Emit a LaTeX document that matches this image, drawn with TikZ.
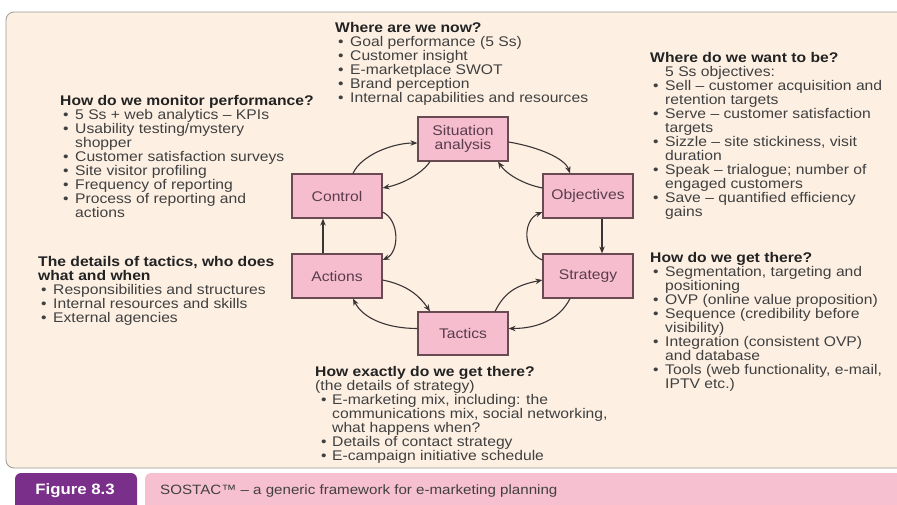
\documentclass[tikz,border=0pt]{standalone}
\usepackage{fontspec}
\setmainfont{Liberation Sans}[FakeStretch=1.12]
\usetikzlibrary{arrows.meta,calc}
\definecolor{cream}{HTML}{FDF0E3}
\definecolor{boxpink}{HTML}{F5BDCE}
\definecolor{boxline}{HTML}{6A4A52}
\definecolor{arrowc}{HTML}{3A3434}
\definecolor{bodytxt}{HTML}{404040}
\definecolor{headtxt}{HTML}{222222}
\definecolor{boxtxt}{HTML}{5A3C4C}
\definecolor{figpurple}{HTML}{7A2F8B}
\definecolor{capink}{HTML}{F7C0D0}
\definecolor{panelline}{HTML}{9A9A9A}
\newcommand{\bitem}[1]{\hspace*{3pt}\makebox[12pt][l]{•}#1}
\newcommand{\bcont}[1]{\hspace*{15pt}#1}
\newcommand{\hd}[1]{{\bfseries\color{headtxt}\rule{0pt}{11pt}#1}}
\newcommand{\hdb}[1]{{\bfseries\color{headtxt}#1}}
\begin{document}
\begin{tikzpicture}[x=1pt,y=-1pt,
  stagebox/.style={draw=boxline, fill=boxpink, line width=1.2pt, minimum width=90pt, minimum height=44pt, inner sep=0pt, align=center, text=boxtxt, font=\fontsize{14}{14}\selectfont},
  txtblock/.style={anchor=north west, inner sep=0pt, align=left, text=bodytxt, font=\fontsize{14}{14}\selectfont},
  arr/.style={draw=arrowc, line width=1.1pt, -{Stealth[length=7pt,width=5.5pt]}},
]
\useasboundingbox (0,0) rectangle (897,504);
\clip (0,0) rectangle (897,504);
\fill[white] (0,0) rectangle (897,504);
% panel
\draw[draw=panelline, line width=0.8pt, fill=cream, rounded corners=8pt] (6,12) rectangle (915,468);

% stage boxes
\node[stagebox] (sit) at (463,139) {Situation\\analysis};
\node[stagebox] (ctl) at (337,196) {Control};
\node[stagebox] (obj) at (588,196) {Objectives};
\node[stagebox] (act) at (337,276) {Actions};
\node[stagebox] (str) at (588,276) {Strategy};
\node[stagebox, minimum height=43pt] (tac) at (463,333.5) {Tactics};

% connectors
\draw[arr] ($(ctl.north)+(16,0)$) .. controls +(8,-18) and +(-25,0) .. ($(sit.west)+(0,4)$);
\draw[arr] ($(sit.south)+(-33,0)$) .. controls +(-8,12) and +(20,-4) .. ($(ctl.east)+(0,-8)$);
\draw[arr] ($(sit.east)+(0,3)$) .. controls +(30,5) and +(-5,-15) .. ($(obj.north)+(-18,0)$);
\draw[arr] ($(obj.west)+(0,-8)$) .. controls +(-20,-4) and +(8,12) .. ($(sit.south)+(35,0)$);
\draw[arr] ($(obj.south)+(14,0)$) -- ($(str.north)+(14,0)$);
\draw[arr] ($(str.west)+(0,-16)$) .. controls +(-20,-8) and +(-20,8) .. ($(obj.west)+(0,16)$);
\draw[arr] ($(str.south)+(-18,0)$) .. controls +(-10,20) and +(30,0) .. ($(tac.east)+(0,-5)$);
\draw[arr] ($(tac.north)+(32,0)$) .. controls +(10,-20) and +(-25,5) .. ($(str.west)+(0,4)$);
\draw[arr] ($(act.east)+(0,4)$) .. controls +(25,5) and +(-10,-15) .. ($(tac.north)+(-33,0)$);
\draw[arr] ($(tac.west)+(0,-5)$) .. controls +(-30,0) and +(10,20) .. ($(act.south)+(16,0)$);
\draw[arr] ($(act.north)+(-14,0)$) -- ($(ctl.south)+(-14,0)$);
\draw[arr] ($(ctl.east)+(0,16)$) .. controls +(17,8) and +(17,-8) .. ($(act.east)+(0,-16)$);

% text blocks
\node[txtblock] (now) at (335,21.5) {\hd{Where are we now?}\\
\bitem{Goal performance (5 Ss)}\\
\bitem{Customer insight}\\
\bitem{E-marketplace SWOT}\\
\bitem{Brand perception}\\
\bitem{Internal capabilities and resources}};

\node[txtblock] (mon) at (60,94.5) {\hd{How do we monitor performance?}\\
\bitem{5 Ss + web analytics – KPIs}\\
\bitem{Usability testing/mystery}\\
\bcont{shopper}\\
\bitem{Customer satisfaction surveys}\\
\bitem{Site visitor profiling}\\
\bitem{Frequency of reporting}\\
\bitem{Process of reporting and}\\
\bcont{actions}};

\node[txtblock] (det) at (38,255.5) {\hd{The details of tactics, who does}\\
\hdb{what and when}\\
\bitem{Responsibilities and structures}\\
\bitem{Internal resources and skills}\\
\bitem{External agencies}};

\node[txtblock] (want) at (650,51.5) {\hd{Where do we want to be?}\\
\bcont{5 Ss objectives:}\\
\bitem{Sell – customer acquisition and}\\
\bcont{retention targets}\\
\bitem{Serve – customer satisfaction}\\
\bcont{targets}\\
\bitem{Sizzle – site stickiness, visit}\\
\bcont{duration}\\
\bitem{Speak – trialogue; number of}\\
\bcont{engaged customers}\\
\bitem{Save – quantified efficiency}\\
\bcont{gains}};

\node[txtblock] (get) at (650,251.5) {\hd{How do we get there?}\\
\bitem{Segmentation, targeting and}\\
\bcont{positioning}\\
\bitem{OVP (online value proposition)}\\
\bitem{Sequence (credibility before}\\
\bcont{visibility)}\\
\bitem{Integration (consistent OVP)}\\
\bcont{and database}\\
\bitem{Tools (web functionality, e-mail,}\\
\bcont{IPTV etc.)}};

\node[txtblock] (exact) at (315,365.5) {\hd{How exactly do we get there?}\\
(the details of strategy)\\
\hspace*{6pt}\makebox[11pt][l]{•}E-marketing mix, including: the\\
\hspace*{17pt}communications mix, social networking,\\
\hspace*{17pt}what happens when?\\
\hspace*{6pt}\makebox[11pt][l]{•}Details of contact strategy\\
\hspace*{6pt}\makebox[11pt][l]{•}E-campaign initiative schedule};

% caption bar
\fill[figpurple, rounded corners=6pt] (15,473) rectangle (137,520);
\node[text=white, font=\fontsize{15}{15}\selectfont\bfseries, inner sep=0pt] (fig) at (75,491) {Figure 8.3};
\fill[capink, rounded corners=6pt] (145,473) rectangle (920,520);
\node[anchor=west, text=bodytxt, font=\fontsize{13.5}{13.5}\selectfont, inner sep=0pt] (cap) at (160,491) {SOSTAC™ – a generic framework for e-marketing planning};
\end{tikzpicture}
\end{document}
